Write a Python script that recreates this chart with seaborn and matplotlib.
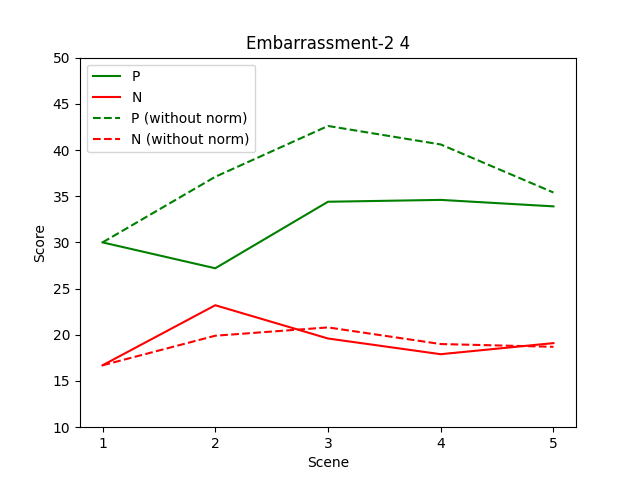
import matplotlib
matplotlib.use("Agg")
import matplotlib.pyplot as plt
import seaborn as sns

scenes = [1, 2, 3, 4, 5]
p_norm = [30.0, 27.2, 34.4, 34.6, 33.9]
n_norm = [16.7, 23.2, 19.6, 17.9, 19.1]
p_raw = [30.0, 37.1, 42.6, 40.6, 35.4]
n_raw = [16.7, 19.9, 20.8, 19.0, 18.7]

fig, ax = plt.subplots(figsize=(6.4, 4.8), dpi=100)
sns.lineplot(x=scenes, y=p_norm, color="green", label="P", ax=ax)
sns.lineplot(x=scenes, y=n_norm, color="red", label="N", ax=ax)
sns.lineplot(x=scenes, y=p_raw, color="green", linestyle="--", label="P (without norm)", ax=ax)
sns.lineplot(x=scenes, y=n_raw, color="red", linestyle="--", label="N (without norm)", ax=ax)
ax.set_ylim(10, 50)
ax.set_xticks(scenes)
ax.set_xlabel("Scene")
ax.set_ylabel("Score")
ax.set_title("Embarrassment-2 4")
ax.legend(loc="upper left")
fig.savefig("out.png")
